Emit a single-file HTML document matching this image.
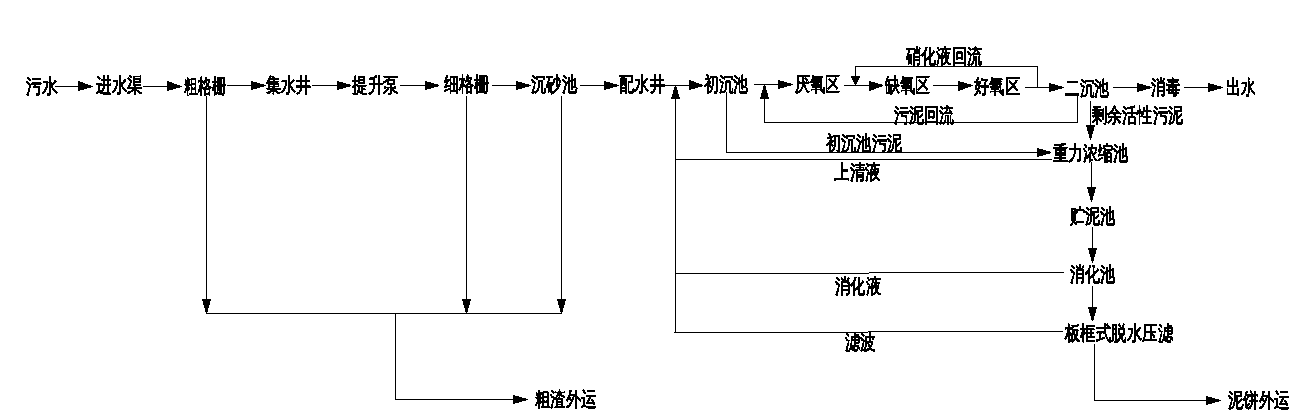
<!DOCTYPE html>
<html><head><meta charset="utf-8"><style>
html,body{margin:0;padding:0;background:#fff;width:1296px;height:419px;overflow:hidden}
svg{position:absolute;left:0;top:0}
.t{position:absolute;font-family:"Liberation Serif",serif;font-size:20px;line-height:20px;font-weight:bold;color:#000;white-space:nowrap;transform-origin:0 0}
</style></head><body>
<svg width="1296" height="419" shape-rendering="crispEdges" fill="#000">
<rect x="55" y="86" width="38" height="1"/>
<rect x="143" y="86" width="39" height="1"/>
<rect x="227" y="85" width="39" height="1"/>
<rect x="312" y="85" width="39" height="1"/>
<rect x="400" y="85" width="39" height="1"/>
<rect x="492" y="85" width="39" height="1"/>
<rect x="580" y="85" width="39" height="1"/>
<rect x="665" y="85" width="38" height="1"/>
<rect x="754" y="84" width="39" height="1"/>
<rect x="844" y="85" width="39" height="1"/>
<rect x="933" y="85" width="40" height="1"/>
<rect x="1025" y="87" width="39" height="1"/>
<rect x="1113" y="87" width="39" height="1"/>
<rect x="1184" y="87" width="39" height="1"/>
<rect x="675" y="86" width="1" height="247"/>
<rect x="764" y="85" width="1" height="38"/>
<rect x="764" y="122" width="314" height="1"/>
<rect x="1077" y="93" width="1" height="30"/>
<rect x="855" y="66" width="183" height="1"/>
<rect x="1037" y="66" width="1" height="22"/>
<rect x="855" y="66" width="1" height="19"/>
<rect x="726" y="92" width="1" height="61"/>
<rect x="726" y="152" width="325" height="1"/>
<rect x="675" y="159" width="377" height="1"/>
<rect x="1090" y="101" width="1" height="39"/>
<rect x="1091" y="162" width="1" height="40"/>
<rect x="1092" y="227" width="1" height="36"/>
<rect x="675" y="273" width="194" height="1"/>
<rect x="869" y="272" width="195" height="1"/>
<rect x="1092" y="286" width="1" height="35"/>
<rect x="674" y="332" width="194" height="1"/>
<rect x="868" y="331" width="195" height="1"/>
<rect x="1094" y="344" width="1" height="57"/>
<rect x="1094" y="400" width="127" height="1"/>
<rect x="206" y="96" width="1" height="217"/>
<rect x="466" y="96" width="1" height="217"/>
<rect x="561" y="96" width="1" height="217"/>
<rect x="206" y="313" width="356" height="1"/>
<rect x="395" y="313" width="1" height="87"/>
<rect x="395" y="399" width="133" height="1"/>
<rect x="78" y="81" width="1" height="10"/>
<rect x="79" y="81" width="1" height="10"/>
<rect x="80" y="82" width="1" height="8"/>
<rect x="81" y="82" width="1" height="8"/>
<rect x="82" y="82" width="1" height="8"/>
<rect x="83" y="83" width="1" height="7"/>
<rect x="84" y="83" width="1" height="6"/>
<rect x="85" y="84" width="1" height="5"/>
<rect x="86" y="84" width="1" height="5"/>
<rect x="87" y="84" width="1" height="4"/>
<rect x="88" y="85" width="1" height="3"/>
<rect x="89" y="85" width="1" height="3"/>
<rect x="90" y="85" width="1" height="3"/>
<rect x="91" y="86" width="1" height="1"/>
<rect x="92" y="86" width="1" height="1"/>
<rect x="167" y="81" width="1" height="10"/>
<rect x="168" y="81" width="1" height="10"/>
<rect x="169" y="82" width="1" height="8"/>
<rect x="170" y="82" width="1" height="8"/>
<rect x="171" y="82" width="1" height="8"/>
<rect x="172" y="83" width="1" height="7"/>
<rect x="173" y="83" width="1" height="6"/>
<rect x="174" y="84" width="1" height="5"/>
<rect x="175" y="84" width="1" height="5"/>
<rect x="176" y="84" width="1" height="4"/>
<rect x="177" y="85" width="1" height="3"/>
<rect x="178" y="85" width="1" height="3"/>
<rect x="179" y="85" width="1" height="3"/>
<rect x="180" y="86" width="1" height="1"/>
<rect x="181" y="86" width="1" height="1"/>
<rect x="251" y="81" width="1" height="9"/>
<rect x="252" y="81" width="1" height="9"/>
<rect x="253" y="82" width="1" height="7"/>
<rect x="254" y="82" width="1" height="7"/>
<rect x="255" y="82" width="1" height="7"/>
<rect x="256" y="82" width="1" height="7"/>
<rect x="257" y="83" width="1" height="5"/>
<rect x="258" y="83" width="1" height="5"/>
<rect x="259" y="83" width="1" height="5"/>
<rect x="260" y="84" width="1" height="3"/>
<rect x="261" y="84" width="1" height="3"/>
<rect x="262" y="84" width="1" height="3"/>
<rect x="263" y="84" width="1" height="3"/>
<rect x="264" y="85" width="1" height="1"/>
<rect x="265" y="85" width="1" height="1"/>
<rect x="337" y="81" width="1" height="9"/>
<rect x="338" y="81" width="1" height="9"/>
<rect x="339" y="82" width="1" height="7"/>
<rect x="340" y="82" width="1" height="7"/>
<rect x="341" y="82" width="1" height="7"/>
<rect x="342" y="82" width="1" height="7"/>
<rect x="343" y="83" width="1" height="5"/>
<rect x="344" y="83" width="1" height="5"/>
<rect x="345" y="83" width="1" height="5"/>
<rect x="346" y="84" width="1" height="3"/>
<rect x="347" y="84" width="1" height="3"/>
<rect x="348" y="84" width="1" height="3"/>
<rect x="349" y="84" width="1" height="3"/>
<rect x="350" y="85" width="1" height="1"/>
<rect x="425" y="81" width="1" height="9"/>
<rect x="426" y="81" width="1" height="9"/>
<rect x="427" y="82" width="1" height="7"/>
<rect x="428" y="82" width="1" height="7"/>
<rect x="429" y="82" width="1" height="7"/>
<rect x="430" y="82" width="1" height="7"/>
<rect x="431" y="83" width="1" height="5"/>
<rect x="432" y="83" width="1" height="5"/>
<rect x="433" y="83" width="1" height="5"/>
<rect x="434" y="84" width="1" height="3"/>
<rect x="435" y="84" width="1" height="3"/>
<rect x="436" y="84" width="1" height="3"/>
<rect x="437" y="84" width="1" height="3"/>
<rect x="438" y="85" width="1" height="1"/>
<rect x="516" y="81" width="1" height="9"/>
<rect x="517" y="81" width="1" height="9"/>
<rect x="518" y="82" width="1" height="7"/>
<rect x="519" y="82" width="1" height="7"/>
<rect x="520" y="82" width="1" height="7"/>
<rect x="521" y="82" width="1" height="7"/>
<rect x="522" y="83" width="1" height="5"/>
<rect x="523" y="83" width="1" height="5"/>
<rect x="524" y="83" width="1" height="5"/>
<rect x="525" y="84" width="1" height="3"/>
<rect x="526" y="84" width="1" height="3"/>
<rect x="527" y="84" width="1" height="3"/>
<rect x="528" y="84" width="1" height="3"/>
<rect x="529" y="85" width="1" height="1"/>
<rect x="530" y="85" width="1" height="1"/>
<rect x="604" y="81" width="1" height="9"/>
<rect x="605" y="81" width="1" height="9"/>
<rect x="606" y="82" width="1" height="7"/>
<rect x="607" y="82" width="1" height="7"/>
<rect x="608" y="82" width="1" height="7"/>
<rect x="609" y="82" width="1" height="7"/>
<rect x="610" y="83" width="1" height="5"/>
<rect x="611" y="83" width="1" height="5"/>
<rect x="612" y="83" width="1" height="5"/>
<rect x="613" y="84" width="1" height="3"/>
<rect x="614" y="84" width="1" height="3"/>
<rect x="615" y="84" width="1" height="3"/>
<rect x="616" y="84" width="1" height="3"/>
<rect x="617" y="85" width="1" height="1"/>
<rect x="618" y="85" width="1" height="1"/>
<rect x="689" y="80" width="1" height="10"/>
<rect x="690" y="80" width="1" height="10"/>
<rect x="691" y="81" width="1" height="8"/>
<rect x="692" y="81" width="1" height="8"/>
<rect x="693" y="81" width="1" height="8"/>
<rect x="694" y="82" width="1" height="7"/>
<rect x="695" y="82" width="1" height="6"/>
<rect x="696" y="83" width="1" height="5"/>
<rect x="697" y="83" width="1" height="5"/>
<rect x="698" y="83" width="1" height="4"/>
<rect x="699" y="84" width="1" height="3"/>
<rect x="700" y="84" width="1" height="3"/>
<rect x="701" y="84" width="1" height="3"/>
<rect x="702" y="85" width="1" height="1"/>
<rect x="778" y="80" width="1" height="9"/>
<rect x="779" y="80" width="1" height="9"/>
<rect x="780" y="81" width="1" height="7"/>
<rect x="781" y="81" width="1" height="7"/>
<rect x="782" y="81" width="1" height="7"/>
<rect x="783" y="81" width="1" height="7"/>
<rect x="784" y="82" width="1" height="5"/>
<rect x="785" y="82" width="1" height="5"/>
<rect x="786" y="82" width="1" height="5"/>
<rect x="787" y="83" width="1" height="3"/>
<rect x="788" y="83" width="1" height="3"/>
<rect x="789" y="83" width="1" height="3"/>
<rect x="790" y="83" width="1" height="3"/>
<rect x="791" y="84" width="1" height="1"/>
<rect x="792" y="84" width="1" height="1"/>
<rect x="869" y="81" width="1" height="10"/>
<rect x="870" y="81" width="1" height="10"/>
<rect x="871" y="82" width="1" height="8"/>
<rect x="872" y="82" width="1" height="8"/>
<rect x="873" y="82" width="1" height="8"/>
<rect x="874" y="82" width="1" height="7"/>
<rect x="875" y="83" width="1" height="6"/>
<rect x="876" y="83" width="1" height="5"/>
<rect x="877" y="83" width="1" height="5"/>
<rect x="878" y="84" width="1" height="4"/>
<rect x="879" y="84" width="1" height="3"/>
<rect x="880" y="84" width="1" height="3"/>
<rect x="881" y="84" width="1" height="3"/>
<rect x="882" y="85" width="1" height="1"/>
<rect x="958" y="81" width="1" height="10"/>
<rect x="959" y="81" width="1" height="10"/>
<rect x="960" y="82" width="1" height="8"/>
<rect x="961" y="82" width="1" height="8"/>
<rect x="962" y="82" width="1" height="8"/>
<rect x="963" y="82" width="1" height="7"/>
<rect x="964" y="83" width="1" height="6"/>
<rect x="965" y="83" width="1" height="5"/>
<rect x="966" y="83" width="1" height="5"/>
<rect x="967" y="84" width="1" height="4"/>
<rect x="968" y="84" width="1" height="3"/>
<rect x="969" y="84" width="1" height="3"/>
<rect x="970" y="84" width="1" height="3"/>
<rect x="971" y="85" width="1" height="1"/>
<rect x="972" y="85" width="1" height="1"/>
<rect x="1049" y="83" width="1" height="9"/>
<rect x="1050" y="83" width="1" height="9"/>
<rect x="1051" y="84" width="1" height="7"/>
<rect x="1052" y="84" width="1" height="7"/>
<rect x="1053" y="84" width="1" height="7"/>
<rect x="1054" y="84" width="1" height="7"/>
<rect x="1055" y="85" width="1" height="5"/>
<rect x="1056" y="85" width="1" height="5"/>
<rect x="1057" y="85" width="1" height="5"/>
<rect x="1058" y="86" width="1" height="3"/>
<rect x="1059" y="86" width="1" height="3"/>
<rect x="1060" y="86" width="1" height="3"/>
<rect x="1061" y="86" width="1" height="3"/>
<rect x="1062" y="87" width="1" height="1"/>
<rect x="1063" y="87" width="1" height="1"/>
<rect x="1137" y="83" width="1" height="9"/>
<rect x="1138" y="83" width="1" height="9"/>
<rect x="1139" y="84" width="1" height="7"/>
<rect x="1140" y="84" width="1" height="7"/>
<rect x="1141" y="84" width="1" height="7"/>
<rect x="1142" y="84" width="1" height="7"/>
<rect x="1143" y="85" width="1" height="5"/>
<rect x="1144" y="85" width="1" height="5"/>
<rect x="1145" y="85" width="1" height="5"/>
<rect x="1146" y="86" width="1" height="3"/>
<rect x="1147" y="86" width="1" height="3"/>
<rect x="1148" y="86" width="1" height="3"/>
<rect x="1149" y="86" width="1" height="3"/>
<rect x="1150" y="87" width="1" height="1"/>
<rect x="1151" y="87" width="1" height="1"/>
<rect x="1208" y="83" width="1" height="9"/>
<rect x="1209" y="83" width="1" height="9"/>
<rect x="1210" y="84" width="1" height="7"/>
<rect x="1211" y="84" width="1" height="7"/>
<rect x="1212" y="84" width="1" height="7"/>
<rect x="1213" y="84" width="1" height="7"/>
<rect x="1214" y="85" width="1" height="5"/>
<rect x="1215" y="85" width="1" height="5"/>
<rect x="1216" y="85" width="1" height="5"/>
<rect x="1217" y="86" width="1" height="3"/>
<rect x="1218" y="86" width="1" height="3"/>
<rect x="1219" y="86" width="1" height="3"/>
<rect x="1220" y="86" width="1" height="3"/>
<rect x="1221" y="87" width="1" height="1"/>
<rect x="1222" y="87" width="1" height="1"/>
<rect x="671" y="98" width="9" height="1"/>
<rect x="671" y="97" width="9" height="1"/>
<rect x="672" y="96" width="7" height="1"/>
<rect x="672" y="95" width="7" height="1"/>
<rect x="672" y="94" width="7" height="1"/>
<rect x="673" y="93" width="5" height="1"/>
<rect x="673" y="92" width="5" height="1"/>
<rect x="673" y="91" width="5" height="1"/>
<rect x="673" y="90" width="5" height="1"/>
<rect x="674" y="89" width="3" height="1"/>
<rect x="674" y="88" width="3" height="1"/>
<rect x="674" y="87" width="3" height="1"/>
<rect x="675" y="86" width="1" height="1"/>
<rect x="760" y="98" width="9" height="1"/>
<rect x="760" y="97" width="9" height="1"/>
<rect x="761" y="96" width="7" height="1"/>
<rect x="761" y="95" width="7" height="1"/>
<rect x="761" y="94" width="7" height="1"/>
<rect x="761" y="93" width="7" height="1"/>
<rect x="762" y="92" width="5" height="1"/>
<rect x="762" y="91" width="5" height="1"/>
<rect x="762" y="90" width="5" height="1"/>
<rect x="763" y="89" width="3" height="1"/>
<rect x="763" y="88" width="3" height="1"/>
<rect x="763" y="87" width="3" height="1"/>
<rect x="763" y="86" width="3" height="1"/>
<rect x="764" y="85" width="1" height="1"/>
<rect x="851" y="76" width="9" height="1"/>
<rect x="851" y="77" width="9" height="1"/>
<rect x="852" y="78" width="7" height="1"/>
<rect x="852" y="79" width="7" height="1"/>
<rect x="853" y="80" width="5" height="1"/>
<rect x="853" y="81" width="5" height="1"/>
<rect x="854" y="82" width="3" height="1"/>
<rect x="854" y="83" width="3" height="1"/>
<rect x="855" y="84" width="1" height="1"/>
<rect x="1037" y="148" width="1" height="9"/>
<rect x="1038" y="148" width="1" height="9"/>
<rect x="1039" y="149" width="1" height="7"/>
<rect x="1040" y="149" width="1" height="7"/>
<rect x="1041" y="149" width="1" height="7"/>
<rect x="1042" y="149" width="1" height="7"/>
<rect x="1043" y="150" width="1" height="5"/>
<rect x="1044" y="150" width="1" height="5"/>
<rect x="1045" y="150" width="1" height="5"/>
<rect x="1046" y="151" width="1" height="3"/>
<rect x="1047" y="151" width="1" height="3"/>
<rect x="1048" y="151" width="1" height="3"/>
<rect x="1049" y="151" width="1" height="3"/>
<rect x="1050" y="152" width="1" height="1"/>
<rect x="1086" y="125" width="9" height="1"/>
<rect x="1086" y="126" width="9" height="1"/>
<rect x="1087" y="127" width="7" height="1"/>
<rect x="1087" y="128" width="7" height="1"/>
<rect x="1087" y="129" width="7" height="1"/>
<rect x="1087" y="130" width="7" height="1"/>
<rect x="1088" y="131" width="5" height="1"/>
<rect x="1088" y="132" width="5" height="1"/>
<rect x="1088" y="133" width="5" height="1"/>
<rect x="1089" y="134" width="3" height="1"/>
<rect x="1089" y="135" width="3" height="1"/>
<rect x="1089" y="136" width="3" height="1"/>
<rect x="1089" y="137" width="3" height="1"/>
<rect x="1090" y="138" width="1" height="1"/>
<rect x="1090" y="139" width="1" height="1"/>
<rect x="1087" y="187" width="9" height="1"/>
<rect x="1087" y="188" width="9" height="1"/>
<rect x="1088" y="189" width="7" height="1"/>
<rect x="1088" y="190" width="7" height="1"/>
<rect x="1088" y="191" width="7" height="1"/>
<rect x="1088" y="192" width="7" height="1"/>
<rect x="1089" y="193" width="5" height="1"/>
<rect x="1089" y="194" width="5" height="1"/>
<rect x="1089" y="195" width="5" height="1"/>
<rect x="1090" y="196" width="3" height="1"/>
<rect x="1090" y="197" width="3" height="1"/>
<rect x="1090" y="198" width="3" height="1"/>
<rect x="1090" y="199" width="3" height="1"/>
<rect x="1091" y="200" width="1" height="1"/>
<rect x="1091" y="201" width="1" height="1"/>
<rect x="1088" y="248" width="9" height="1"/>
<rect x="1088" y="249" width="9" height="1"/>
<rect x="1089" y="250" width="7" height="1"/>
<rect x="1089" y="251" width="7" height="1"/>
<rect x="1089" y="252" width="7" height="1"/>
<rect x="1089" y="253" width="7" height="1"/>
<rect x="1090" y="254" width="5" height="1"/>
<rect x="1090" y="255" width="5" height="1"/>
<rect x="1090" y="256" width="5" height="1"/>
<rect x="1091" y="257" width="3" height="1"/>
<rect x="1091" y="258" width="3" height="1"/>
<rect x="1091" y="259" width="3" height="1"/>
<rect x="1091" y="260" width="3" height="1"/>
<rect x="1092" y="261" width="1" height="1"/>
<rect x="1092" y="262" width="1" height="1"/>
<rect x="1088" y="307" width="9" height="1"/>
<rect x="1088" y="308" width="9" height="1"/>
<rect x="1089" y="309" width="7" height="1"/>
<rect x="1089" y="310" width="7" height="1"/>
<rect x="1089" y="311" width="7" height="1"/>
<rect x="1089" y="312" width="7" height="1"/>
<rect x="1090" y="313" width="5" height="1"/>
<rect x="1090" y="314" width="5" height="1"/>
<rect x="1090" y="315" width="5" height="1"/>
<rect x="1091" y="316" width="3" height="1"/>
<rect x="1091" y="317" width="3" height="1"/>
<rect x="1091" y="318" width="3" height="1"/>
<rect x="1091" y="319" width="3" height="1"/>
<rect x="1092" y="320" width="1" height="1"/>
<rect x="1206" y="396" width="1" height="9"/>
<rect x="1207" y="396" width="1" height="9"/>
<rect x="1208" y="397" width="1" height="7"/>
<rect x="1209" y="397" width="1" height="7"/>
<rect x="1210" y="397" width="1" height="7"/>
<rect x="1211" y="397" width="1" height="7"/>
<rect x="1212" y="398" width="1" height="5"/>
<rect x="1213" y="398" width="1" height="5"/>
<rect x="1214" y="398" width="1" height="5"/>
<rect x="1215" y="399" width="1" height="3"/>
<rect x="1216" y="399" width="1" height="3"/>
<rect x="1217" y="399" width="1" height="3"/>
<rect x="1218" y="399" width="1" height="3"/>
<rect x="1219" y="400" width="1" height="1"/>
<rect x="1220" y="400" width="1" height="1"/>
<rect x="202" y="299" width="9" height="1"/>
<rect x="202" y="300" width="9" height="1"/>
<rect x="203" y="301" width="7" height="1"/>
<rect x="203" y="302" width="7" height="1"/>
<rect x="203" y="303" width="7" height="1"/>
<rect x="203" y="304" width="7" height="1"/>
<rect x="204" y="305" width="5" height="1"/>
<rect x="204" y="306" width="5" height="1"/>
<rect x="204" y="307" width="5" height="1"/>
<rect x="205" y="308" width="3" height="1"/>
<rect x="205" y="309" width="3" height="1"/>
<rect x="205" y="310" width="3" height="1"/>
<rect x="205" y="311" width="3" height="1"/>
<rect x="206" y="312" width="1" height="1"/>
<rect x="462" y="299" width="9" height="1"/>
<rect x="462" y="300" width="9" height="1"/>
<rect x="463" y="301" width="7" height="1"/>
<rect x="463" y="302" width="7" height="1"/>
<rect x="463" y="303" width="7" height="1"/>
<rect x="463" y="304" width="7" height="1"/>
<rect x="464" y="305" width="5" height="1"/>
<rect x="464" y="306" width="5" height="1"/>
<rect x="464" y="307" width="5" height="1"/>
<rect x="465" y="308" width="3" height="1"/>
<rect x="465" y="309" width="3" height="1"/>
<rect x="465" y="310" width="3" height="1"/>
<rect x="465" y="311" width="3" height="1"/>
<rect x="466" y="312" width="1" height="1"/>
<rect x="557" y="299" width="9" height="1"/>
<rect x="557" y="300" width="9" height="1"/>
<rect x="558" y="301" width="7" height="1"/>
<rect x="558" y="302" width="7" height="1"/>
<rect x="558" y="303" width="7" height="1"/>
<rect x="558" y="304" width="7" height="1"/>
<rect x="559" y="305" width="5" height="1"/>
<rect x="559" y="306" width="5" height="1"/>
<rect x="559" y="307" width="5" height="1"/>
<rect x="560" y="308" width="3" height="1"/>
<rect x="560" y="309" width="3" height="1"/>
<rect x="560" y="310" width="3" height="1"/>
<rect x="560" y="311" width="3" height="1"/>
<rect x="561" y="312" width="1" height="1"/>
<rect x="513" y="395" width="1" height="9"/>
<rect x="514" y="395" width="1" height="9"/>
<rect x="515" y="396" width="1" height="7"/>
<rect x="516" y="396" width="1" height="7"/>
<rect x="517" y="396" width="1" height="7"/>
<rect x="518" y="396" width="1" height="7"/>
<rect x="519" y="397" width="1" height="5"/>
<rect x="520" y="397" width="1" height="5"/>
<rect x="521" y="397" width="1" height="5"/>
<rect x="522" y="398" width="1" height="3"/>
<rect x="523" y="398" width="1" height="3"/>
<rect x="524" y="398" width="1" height="3"/>
<rect x="525" y="398" width="1" height="3"/>
<rect x="526" y="399" width="1" height="1"/>
<rect x="527" y="399" width="1" height="1"/>
</svg>
<svg width="0" height="0" style="position:absolute"><filter id="bin" x="0" y="0" width="1296" height="419" filterUnits="userSpaceOnUse" color-interpolation-filters="sRGB"><feComponentTransfer><feFuncA type="discrete" tableValues="0 1 1"/></feComponentTransfer></filter></svg>
<div id="tx" style="position:absolute;left:0;top:0;width:1296px;height:419px;filter:url(#bin)">
<div class="t" style="left:26px;top:76px;transform:scaleX(0.7949)">污水</div>
<div class="t" style="left:96px;top:75px;transform:scaleX(0.7833)">进水渠</div>
<div class="t" style="left:184px;top:76px;transform:scaleX(0.7000)">粗格栅</div>
<div class="t" style="left:266px;top:75px;transform:scaleX(0.7500)">集水井</div>
<div class="t" style="left:352px;top:75px;transform:scaleX(0.7797)">提升泵</div>
<div class="t" style="left:444px;top:74px;transform:scaleX(0.7500)">细格栅</div>
<div class="t" style="left:531px;top:74px;transform:scaleX(0.7667)">沉砂池</div>
<div class="t" style="left:619.237px;top:74px;transform:scaleX(0.7627)">配水井</div>
<div class="t" style="left:704px;top:74px;transform:scaleX(0.7333)">初沉池</div>
<div class="t" style="left:795px;top:74px;transform:scaleX(0.7500)">厌氧区</div>
<div class="t" style="left:885px;top:75px;transform:scaleX(0.7500)">缺氧区</div>
<div class="t" style="left:974px;top:76px;transform:scaleX(0.7667)">好氧区</div>
<div class="t" style="left:1065px;top:78px;transform:scaleX(0.7333)">二沉池</div>
<div class="t" style="left:1151px;top:77px;transform:scaleX(0.7250)">消毒</div>
<div class="t" style="left:1226.26px;top:77px;transform:scaleX(0.7368)">出水</div>
<div class="t" style="left:906px;top:46px;transform:scaleX(0.7600)">硝化液回流</div>
<div class="t" style="left:894px;top:105px;transform:scaleX(0.7500)">污泥回流</div>
<div class="t" style="left:1092px;top:105px;transform:scaleX(0.7583)">剩余活性污泥</div>
<div class="t" style="left:826px;top:133px;transform:scaleX(0.7600)">初沉池污泥</div>
<div class="t" style="left:1053px;top:143px;transform:scaleX(0.7500)">重力浓缩池</div>
<div class="t" style="left:834px;top:162px;transform:scaleX(0.7797)">上清液</div>
<div class="t" style="left:1070px;top:206px;transform:scaleX(0.7500)">贮泥池</div>
<div class="t" style="left:1070px;top:264px;transform:scaleX(0.7500)">消化池</div>
<div class="t" style="left:835px;top:276px;transform:scaleX(0.7627)">消化液</div>
<div class="t" style="left:1065px;top:323px;transform:scaleX(0.7714)">板框式脱水压滤</div>
<div class="t" style="left:845px;top:332px;transform:scaleX(0.7692)">滤波</div>
<div class="t" style="left:535px;top:389px;transform:scaleX(0.7722)">粗渣外运</div>
<div class="t" style="left:1228px;top:390px;transform:scaleX(0.7722)">泥饼外运</div>
</div></body></html>
